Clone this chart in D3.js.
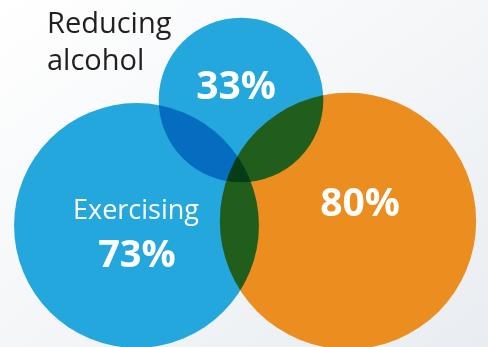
<!DOCTYPE html>
<html><head><meta charset="utf-8">
<script src="https://cdn.jsdelivr.net/npm/d3@7"></script>
<style>html,body{margin:0;padding:0;overflow:hidden;background:#fff}</style>
</head><body>
<script>
const categories = ["Reducing alcohol", "Exercising", "Eating healthier"];
const values = [33, 73, 80];
const colors = ["#23a7dd", "#23a7dd", "#ec8e1f"];

const W = 488, H = 347;
const svg = d3.select("body").append("svg").attr("width", W).attr("height", H);
const defs = svg.append("defs");
const g = defs.append("linearGradient").attr("id","bg").attr("x1","0").attr("y1","0").attr("x2","1").attr("y2","1");
g.append("stop").attr("offset","0").attr("stop-color","#ffffff");
g.append("stop").attr("offset","1").attr("stop-color","#e9edf1");
svg.append("rect").attr("width", W).attr("height", H).attr("fill","url(#bg)");

const r = d3.scaleSqrt().domain([0, 100]).range([0, 143.3]);
// layout: circle centres (pixels)
const centers = [[241, 100], [136.5, 225.5], [348, 221]];

const data = categories.map((c, i) => ({name: c, value: values[i], color: colors[i], cx: centers[i][0], cy: centers[i][1]}));

const cg = svg.append("g").style("isolation", "isolate");
cg.selectAll("circle").data([data[1], data[2], data[0]]).join("circle")
  .attr("cx", d => d.cx).attr("cy", d => d.cy).attr("r", d => r(d.value))
  .attr("fill", d => d.color).style("mix-blend-mode", "multiply");

const font = "'Open Sans', sans-serif";
// Reducing alcohol label (outside)
const t0 = svg.append("text").attr("font-family", font).attr("font-size", 29).attr("fill", "#231f20");
t0.append("tspan").attr("x", 47).attr("y", 33).text("Reducing");
t0.append("tspan").attr("x", 47).attr("y", 70).text("alcohol");

svg.append("text").attr("x", 236).attr("y", 99).attr("text-anchor","middle")
  .attr("font-family", font).attr("font-weight", 700).attr("font-size", 39).attr("fill","#fff")
  .text(d3.format(".0f")(values[0]) + "%");

svg.append("text").attr("x", 136).attr("y", 219).attr("text-anchor","middle")
  .attr("font-family", font).attr("font-size", 27).attr("fill","#fff").text(categories[1]);
svg.append("text").attr("x", 137).attr("y", 267).attr("text-anchor","middle")
  .attr("font-family", font).attr("font-weight", 700).attr("font-size", 38).attr("fill","#fff")
  .text(values[1] + "%");

svg.append("text").attr("x", 360).attr("y", 216).attr("text-anchor","middle")
  .attr("font-family", font).attr("font-weight", 700).attr("font-size", 39).attr("fill","#fff")
  .text(values[2] + "%");
</script>
</body></html>
